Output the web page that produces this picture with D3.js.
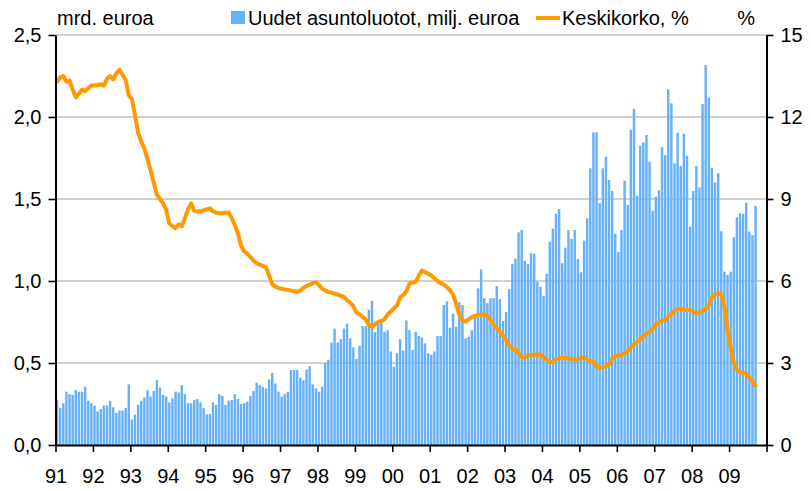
<!DOCTYPE html>
<html>
<head>
<meta charset="utf-8">
<script src="https://cdn.jsdelivr.net/npm/d3@7"></script>
<style>
  body { margin: 0; background: #fff; }
  svg text { font-family: "Liberation Sans", Arial, sans-serif; }
</style>
</head>
<body>
<div id="chart"></div>
<script>
// year labels on the x axis, one per year
var years = ["91", "92", "93", "94", "95", "96", "97", "98", "99", "00",
             "01", "02", "03", "04", "05", "06", "07", "08", "09"];

// new housing loans per month (left axis), 1991-01 .. 2009-09
var loans = [
  0.275, 0.225, 0.255, 0.325, 0.31, 0.305, 0.335, 0.325, 0.325, 0.355, 0.27, 0.255,
  0.24, 0.205, 0.22, 0.24, 0.24, 0.27, 0.23, 0.195, 0.21, 0.21, 0.225, 0.37,
  0.155, 0.185, 0.245, 0.27, 0.29, 0.335, 0.295, 0.33, 0.395, 0.35, 0.305, 0.295,
  0.26, 0.285, 0.325, 0.32, 0.365, 0.31, 0.255, 0.255, 0.275, 0.28, 0.26, 0.225,
  0.187, 0.19, 0.26, 0.245, 0.31, 0.30, 0.245, 0.27, 0.275, 0.31, 0.28, 0.25,
  0.255, 0.265, 0.30, 0.33, 0.38, 0.365, 0.355, 0.345, 0.40, 0.44, 0.375, 0.325,
  0.295, 0.31, 0.325, 0.457, 0.457, 0.457, 0.41, 0.395, 0.46, 0.48, 0.37, 0.345,
  0.325, 0.355, 0.50, 0.52, 0.625, 0.71, 0.625, 0.645, 0.71, 0.74, 0.65, 0.595,
  0.525, 0.605, 0.725, 0.725, 0.825, 0.88, 0.69, 0.74, 0.755, 0.69, 0.70, 0.57,
  0.477, 0.56, 0.645, 0.575, 0.76, 0.70, 0.58, 0.69, 0.665, 0.655, 0.62, 0.56,
  0.55, 0.57, 0.665, 0.665, 0.853, 0.875, 0.715, 0.80, 0.72, 0.87, 0.853, 0.65,
  0.66, 0.70, 0.78, 0.955, 1.07, 0.895, 0.865, 0.895, 0.895, 0.97, 0.89, 0.756,
  0.81, 0.95, 1.104, 1.136, 1.297, 1.311, 1.122, 1.104, 1.169, 1.167, 0.996, 0.965,
  0.91, 1.043, 1.24, 1.32, 1.41, 1.439, 1.108, 1.203, 1.309, 1.256, 1.311, 1.134,
  1.053, 1.246, 1.382, 1.687, 1.907, 1.907, 1.474, 1.687, 1.758, 1.616, 1.549, 1.287,
  1.177, 1.311, 1.612, 1.463, 1.921, 2.049, 1.52, 1.823, 1.845, 1.89, 1.728, 1.429,
  1.514, 1.553, 1.815, 1.768, 2.169, 2.083, 1.717, 1.904, 1.701, 1.898, 1.764, 1.331,
  1.549, 1.701, 1.571, 2.079, 2.317, 2.118, 1.691, 1.6, 1.657, 1.303, 1.057, 1.037,
  1.057, 1.266, 1.388, 1.413, 1.41, 1.477, 1.301, 1.279, 1.459
];

// average interest rate, % (right axis), same months
var rate = [
  13.29, 13.45, 13.5, 13.29, 13.33, 13.0, 12.72, 12.85, 13.0, 12.95, 13.05, 13.15,
  13.15, 13.17, 13.2, 13.15, 13.4, 13.5, 13.38, 13.6, 13.72, 13.55, 13.35, 12.8,
  12.65, 12.07, 11.42, 11.1, 10.85, 10.45, 10.05, 9.6, 9.15, 9.0, 8.85, 8.6,
  8.1, 8.0, 7.93, 8.07, 8.0, 8.3, 8.62, 8.84, 8.56, 8.55, 8.54, 8.58,
  8.62, 8.66, 8.55, 8.5, 8.48, 8.48, 8.5, 8.51, 8.3, 8.05, 7.75, 7.3,
  7.08, 7.0, 6.88, 6.74, 6.65, 6.6, 6.55, 6.5, 6.2, 5.88, 5.8, 5.74,
  5.72, 5.69, 5.67, 5.65, 5.63, 5.61, 5.65, 5.75, 5.82, 5.87, 5.92, 5.95,
  5.85, 5.72, 5.65, 5.6, 5.57, 5.54, 5.5, 5.46, 5.42, 5.3, 5.2, 5.08,
  4.85, 4.78, 4.68, 4.6, 4.38, 4.33, 4.42, 4.51, 4.54, 4.6, 4.78, 4.88,
  5.0, 5.1, 5.4, 5.48, 5.62, 5.9, 5.94, 5.97, 6.2, 6.38, 6.33, 6.26,
  6.2, 6.1, 6.0, 5.92, 5.87, 5.78, 5.66, 5.5, 5.15, 4.75, 4.55, 4.51,
  4.6, 4.68, 4.72, 4.76, 4.77, 4.78, 4.72, 4.57, 4.4, 4.28, 4.15, 4.0,
  3.85, 3.62, 3.52, 3.48, 3.35, 3.22, 3.2, 3.28, 3.29, 3.29, 3.31, 3.32,
  3.22, 3.12, 3.02, 3.05, 3.13, 3.17, 3.18, 3.18, 3.17, 3.15, 3.13, 3.12,
  3.2, 3.22, 3.1, 3.06, 3.05, 2.88, 2.84, 2.86, 2.88, 2.95, 3.15, 3.25,
  3.28, 3.3, 3.35, 3.45, 3.58, 3.68, 3.78, 3.86, 3.98, 4.07, 4.14, 4.25,
  4.4, 4.5, 4.54, 4.58, 4.7, 4.8, 4.9, 4.97, 4.99, 4.95, 4.94, 4.94,
  4.88, 4.82, 4.85, 4.9, 4.98, 5.12, 5.4, 5.52, 5.54, 5.52, 5.05, 4.2,
  3.55, 3.0, 2.75, 2.67, 2.64, 2.62, 2.46, 2.32, 2.16
];

var leftTicks = [0, 0.5, 1, 1.5, 2, 2.5];
var rightTicks = [0, 3, 6, 9, 12, 15];

var width = 811, height = 491;
var plotLeft = 55.5, plotRight = 766.5, plotTop = 35, plotBottom = 445;

var svg = d3.select("#chart").append("svg").attr("width", width).attr("height", height);

var x = d3.scaleBand().domain(d3.range(years.length * 12)).range([plotLeft, plotRight])
  .paddingInner(0.22).paddingOuter(0.11);
var xYear = d3.scaleLinear().domain([0, years.length]).range([plotLeft, plotRight]);
var yL = d3.scaleLinear().domain([0, 2.5]).range([plotBottom, plotTop]);
var yR = d3.scaleLinear().domain([0, 15]).range([plotBottom, plotTop]);

// grid
svg.append("g").selectAll("line").data(leftTicks.slice(1)).enter().append("line")
  .attr("x1", plotLeft).attr("x2", plotRight)
  .attr("y1", function(d) { return yL(d); }).attr("y2", function(d) { return yL(d); })
  .attr("stroke", "#c0c0c0").attr("stroke-width", 1.5);

// bars
svg.append("g").selectAll("rect").data(loans).enter().append("rect")
  .attr("x", function(d, i) { return x(i); })
  .attr("width", x.bandwidth())
  .attr("y", function(d) { return yL(d); })
  .attr("height", function(d) { return plotBottom - yL(d); })
  .attr("fill", "#66b1f8");

// interest line
var line = d3.line()
  .x(function(d, i) { return x(i) + x.bandwidth() / 2; })
  .y(function(d) { return yR(d); });
svg.append("path").datum(rate).attr("d", line)
  .attr("fill", "none").attr("stroke", "#ff9900").attr("stroke-width", 4)
  .attr("stroke-linejoin", "round").attr("stroke-linecap", "round");

// axes
function styleAxis(g) {
  g.selectAll("path.domain").attr("stroke", "#000").attr("stroke-width", 2);
  g.selectAll(".tick line").attr("stroke", "#000").attr("stroke-width", 1.6);
  g.selectAll(".tick text").attr("fill", "#000").style("font-size", "20px")
    .style("font-family", "'Liberation Sans', Arial, sans-serif");
}

svg.append("g").attr("transform", "translate(" + plotLeft + ",0)")
  .call(d3.axisLeft(yL).tickValues(leftTicks).tickSize(7).tickSizeOuter(0).tickPadding(7)
    .tickFormat(function(d) { return d3.format(".1f")(d).replace(".", ","); }))
  .call(styleAxis);

svg.append("g").attr("transform", "translate(" + plotRight + ",0)")
  .call(d3.axisRight(yR).tickValues(rightTicks).tickSize(7).tickSizeOuter(0).tickPadding(7))
  .call(styleAxis);

svg.append("g").attr("transform", "translate(0," + plotBottom + ")")
  .call(d3.axisBottom(xYear).tickValues(d3.range(years.length + 1)).tickSize(7).tickSizeOuter(0)
    .tickPadding(17).tickFormat(function(i) { return years[i] || ""; }))
  .call(styleAxis);

// titles and legend
svg.append("text").attr("x", 57).attr("y", 25).text("mrd. euroa").attr("style", "font-size:20px").attr("fill", "#000");
svg.append("text").attr("x", 755).attr("y", 25).attr("text-anchor", "end").text("%").attr("style", "font-size:20px").attr("fill", "#000");

svg.append("rect").attr("x", 231).attr("y", 11).attr("width", 14).attr("height", 13).attr("fill", "#66b1f8");
svg.append("text").attr("x", 248).attr("y", 25).text("Uudet asuntoluotot, milj. euroa").attr("style", "font-size:20px").attr("fill", "#000");
svg.append("line").attr("x1", 536).attr("x2", 560).attr("y1", 18).attr("y2", 18)
  .attr("stroke", "#ff9900").attr("stroke-width", 4);
svg.append("text").attr("x", 562).attr("y", 25).text("Keskikorko, %").attr("style", "font-size:20px").attr("fill", "#000");
</script>
</body>
</html>
